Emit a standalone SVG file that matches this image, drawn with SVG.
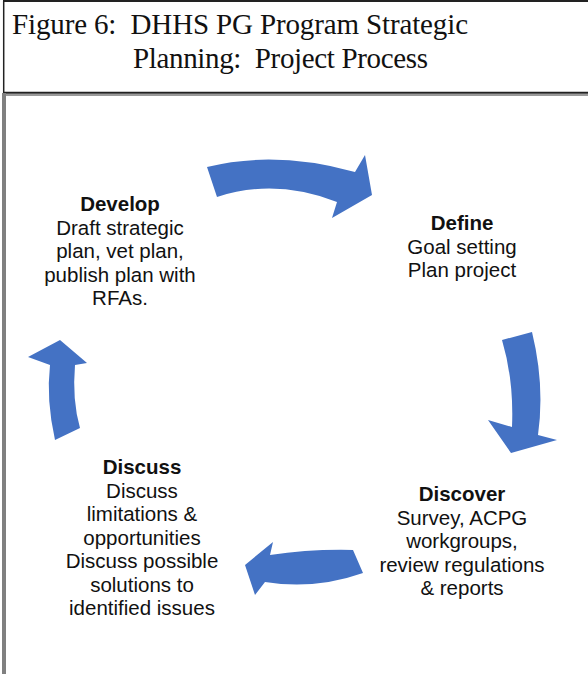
<svg xmlns="http://www.w3.org/2000/svg" width="588" height="674" viewBox="0 0 588 674">
<style>
.title{font-family:"Liberation Serif","Times New Roman",serif;font-size:29px;fill:#111;white-space:pre}
.t{font-family:"Liberation Sans",Arial,sans-serif;font-size:20.5px;fill:#111;text-anchor:middle}
.b{font-weight:bold}
.arrow{fill:#4472C4}
</style>
<rect x="0" y="0" width="588" height="674" fill="#fff"/>
<g id="frame">
<line x1="3" y1="1" x2="588" y2="1" stroke="#222" stroke-width="2"/>
<line x1="3.7" y1="1" x2="3.7" y2="93" stroke="#222" stroke-width="1.5"/>
<line x1="3" y1="92.8" x2="588" y2="92.8" stroke="#222" stroke-width="2"/>
<line x1="6" y1="95" x2="588" y2="95" stroke="#9a9a9a" stroke-width="2"/>
<rect x="2" y="93" width="4" height="581" fill="#808080"/>
</g>
<g id="title">
<text class="title" x="12" y="34" xml:space="preserve" textLength="456">Figure 6:  DHHS PG Program Strategic</text>
<text class="title" x="133" y="68" xml:space="preserve" textLength="295">Planning:  Project Process</text>
</g>
<g id="connectors">
<path class="arrow" d="M207,167 Q275,150 355,172 L365,155 L372,195 L332,218 L337,202 Q275,178 217,197 Z"/>
<path class="arrow" d="M502,340 L532,332 Q545,385 538,435 L557,440 L511,453 L488,420 L512,427 Q514,380 502,340 Z"/>
<path class="arrow" d="M353,550 Q310,549 270,555 L273,542 L245,565 L255,595 L265,582 Q315,590 363,573 Z"/>
<path class="arrow" d="M55,440 Q46,400 50,365 L28,357 L60,340 L87,363 L75,365 Q72,400 80,428 Z"/>
</g>
<g id="develop">
<text class="t b" x="120" y="211">Develop</text>
<text class="t" x="120" y="234.5">Draft strategic</text>
<text class="t" x="120" y="258">plan, vet plan,</text>
<text class="t" x="120" y="281.5">publish plan with</text>
<text class="t" x="120" y="305">RFAs.</text>
</g>
<g id="define">
<text class="t b" x="462" y="230">Define</text>
<text class="t" x="462" y="253.5">Goal setting</text>
<text class="t" x="462" y="277">Plan project</text>
</g>
<g id="discover">
<text class="t b" x="462" y="501">Discover</text>
<text class="t" x="462" y="524.5">Survey, ACPG</text>
<text class="t" x="462" y="548">workgroups,</text>
<text class="t" x="462" y="571.5">review regulations</text>
<text class="t" x="462" y="595">&amp; reports</text>
</g>
<g id="discuss">
<text class="t b" x="142" y="474">Discuss</text>
<text class="t" x="142" y="497.5">Discuss</text>
<text class="t" x="142" y="521">limitations &amp;</text>
<text class="t" x="142" y="544.5">opportunities</text>
<text class="t" x="142" y="568">Discuss possible</text>
<text class="t" x="142" y="591.5">solutions to</text>
<text class="t" x="142" y="615">identified issues</text>
</g>
</svg>
